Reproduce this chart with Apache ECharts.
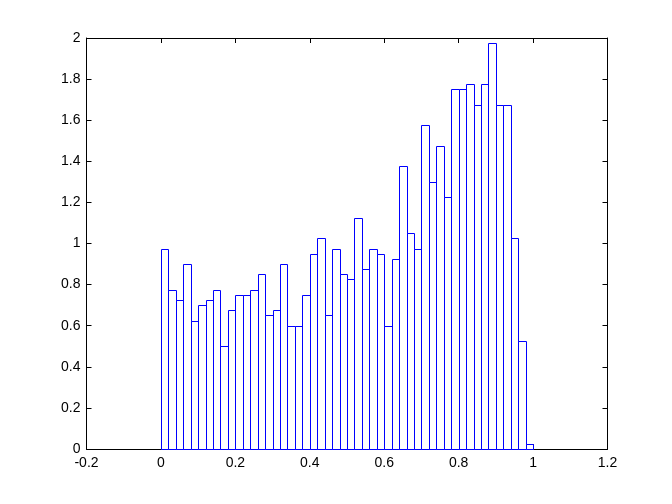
<!DOCTYPE html>
<html>
<head>
<meta charset="utf-8">
<script src="https://cdn.jsdelivr.net/npm/echarts@6/dist/echarts.min.js"></script>
<style>
  html, body { margin: 0; padding: 0; background: #fff; }
  #chart { width: 672px; height: 504px; }
</style>
</head>
<body>
<div id="chart"></div>
<script>
  // histogram (density), 50 bins of width 0.02 over [0, 1]
  const binWidth = 0.02
  const density = [
    0.975, 0.775, 0.725, 0.9, 0.625, 0.7, 0.725, 0.775, 0.5, 0.675,
    0.75, 0.75, 0.775, 0.85, 0.65, 0.675, 0.9, 0.6, 0.6, 0.75,
    0.95, 1.025, 0.65, 0.975, 0.85, 0.825, 1.125, 0.875, 0.975, 0.95,
    0.6, 0.925, 1.375, 1.05, 0.975, 1.575, 1.3, 1.475, 1.225, 1.75,
    1.75, 1.775, 1.675, 1.775, 1.975, 1.675, 1.675, 1.025, 0.525, 0.025
  ]
  const xTicks = [-0.2, 0, 0.2, 0.4, 0.6, 0.8, 1, 1.2]
  const yTicks = [0, 0.2, 0.4, 0.6, 0.8, 1, 1.2, 1.4, 1.6, 1.8, 2]

  const binData = density.map((v, i) => [+(i * binWidth).toFixed(2), +((i + 1) * binWidth).toFixed(2), v])

  const font = { color: '#000', fontFamily: 'Liberation Sans', fontSize: 14 }
  const line = { lineStyle: { color: '#000', width: 1 } }

  const myChart = echarts.init(document.getElementById('chart'), null, { renderer: 'canvas' })
  const option = {
    backgroundColor: '#fff',
    animation: false,
    grid: { left: 86.5, right: 64.5, top: 38, bottom: 55, containLabel: false },
    xAxis: [{
      type: 'value',
      min: xTicks[0], max: xTicks[xTicks.length - 1], interval: 0.2,
      axisLine: { show: true, onZero: false, ...line },
      axisTick: { show: true, inside: true, length: 5, ...line },
      axisLabel: { ...font, margin: 7, formatter: v => String(+v.toFixed(1)) },
      splitLine: { show: false }
    }, {
      type: 'value', position: 'top',
      min: xTicks[0], max: xTicks[xTicks.length - 1], interval: 0.2,
      axisLine: { show: true, onZero: false, ...line },
      axisTick: { show: true, inside: true, length: 5, ...line },
      axisLabel: { show: false },
      splitLine: { show: false }
    }],
    yAxis: [{
      type: 'value',
      min: yTicks[0], max: yTicks[yTicks.length - 1], interval: 0.2,
      axisLine: { show: true, onZero: false, ...line },
      axisTick: { show: true, inside: true, length: 5, ...line },
      axisLabel: { ...font, margin: 6, formatter: v => String(+v.toFixed(1)) },
      splitLine: { show: false }
    }, {
      type: 'value', position: 'right',
      min: yTicks[0], max: yTicks[yTicks.length - 1], interval: 0.2,
      axisLine: { show: true, onZero: false, ...line },
      axisTick: { show: true, inside: true, length: 5, ...line },
      axisLabel: { show: false },
      splitLine: { show: false }
    }],
    series: [{
      type: 'custom',
      xAxisIndex: 0,
      yAxisIndex: 0,
      data: binData,
      renderItem(params, api) {
        const p0 = api.coord([api.value(0), api.value(2)])
        const p1 = api.coord([api.value(1), 0])
        const x0 = Math.round(p0[0]) + 0.5
        const x1 = Math.round(p1[0]) + 0.5
        const y0 = Math.round(p0[1]) + 0.5
        const y1 = Math.round(p1[1]) + 0.5
        return {
          type: 'rect',
          shape: { x: x0, y: y0, width: x1 - x0, height: y1 - y0 },
          style: { fill: '#fff', stroke: '#0000ff', lineWidth: 1 }
        }
      }
    }]
  }
  myChart.setOption(option)
</script>
</body>
</html>
